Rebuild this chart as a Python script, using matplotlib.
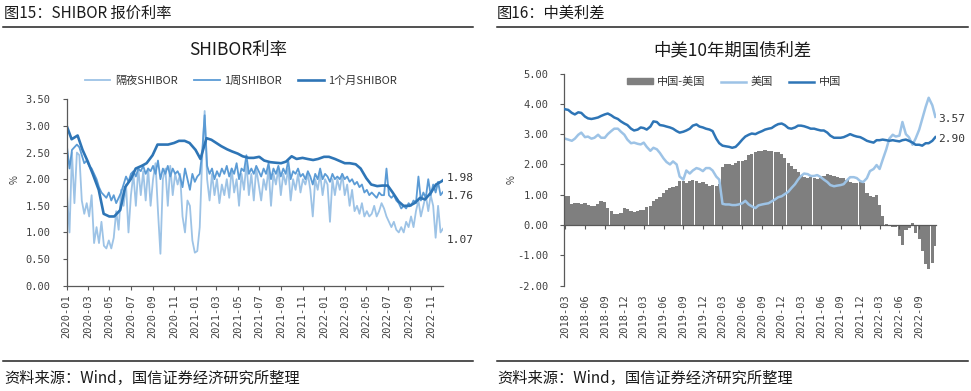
import numpy as np
import pandas as pd
import matplotlib
matplotlib.use('Agg')
import matplotlib.pyplot as plt
from matplotlib.lines import Line2D
from matplotlib.patches import Patch

plt.rcParams['font.family'] = ['Noto Sans CJK SC', 'DejaVu Sans']

# ---------------- Data: SHIBOR (left) ----------------
shibor_on = [
    1.70, 1.00, 2.50, 1.55, 2.50, 2.45, 1.60, 1.35, 1.55, 1.30,
    1.70, 0.80, 1.10, 0.80, 1.20, 0.75, 0.70, 0.85, 0.70, 0.90,
    1.40, 1.05, 1.80, 1.50, 1.90, 1.00, 1.70, 2.10, 1.50, 2.20,
    1.70, 2.15, 1.60, 2.20, 1.50, 2.00, 2.30, 1.40, 0.60, 2.00,
    2.20, 1.50, 2.25, 1.70, 2.10, 1.90, 2.10, 1.30, 1.00, 1.60,
    1.50, 0.85, 0.62, 0.65, 1.10, 2.40, 3.28, 2.00, 1.60, 2.10,
    1.70, 2.00, 1.55, 1.90, 1.70, 2.00, 1.65, 2.20, 1.75, 2.00,
    1.50, 2.10, 1.80, 2.30, 1.70, 2.10, 1.60, 2.20, 1.90, 1.60,
    2.00, 1.80, 2.20, 1.50, 2.10, 1.90, 2.20, 1.70, 2.10, 1.90,
    2.20, 1.60, 2.00, 1.80, 2.10, 1.75, 2.00, 1.90, 2.10, 1.80,
    1.30, 2.00, 1.80, 2.10, 1.70, 2.00, 1.90, 1.20, 2.00, 1.70,
    2.00, 1.80, 2.10, 1.70, 1.90, 1.50, 1.80, 1.40, 1.50, 1.35,
    1.55, 1.30, 1.40, 1.30, 1.35, 1.50, 1.30, 1.40, 1.55, 1.45,
    1.30, 1.20, 1.10, 1.20, 1.05, 1.00, 1.10, 1.00, 1.20, 1.10,
    1.30, 1.10, 1.40, 1.60, 1.30, 1.50, 1.70, 1.40, 1.70, 1.50,
    0.90, 1.50, 1.00, 1.07,
]
shibor_1w = [
    2.60, 2.20, 2.55, 2.60, 2.65, 2.60, 2.45, 2.30, 2.35, 2.25,
    2.20, 2.10, 2.00, 1.85, 1.75, 1.70, 1.65, 1.75, 1.60, 1.70,
    1.55, 1.65, 1.75, 1.90, 2.05, 1.95, 2.10, 2.15, 2.05, 2.20,
    2.15, 2.25, 2.10, 2.20, 2.15, 2.25, 2.10, 2.35, 2.00, 2.20,
    2.10, 2.25, 2.05, 2.20, 2.10, 2.15, 2.05, 1.85, 2.20, 2.00,
    1.80, 2.10, 1.95, 2.05, 2.10, 2.50, 3.20, 2.25, 2.10, 2.20,
    2.00, 2.15, 2.05, 2.20, 2.10, 2.25, 2.05, 2.20, 2.10, 2.30,
    2.00, 2.20, 2.15, 2.45, 2.10, 2.20, 2.10, 2.25, 2.15, 2.05,
    2.20, 2.10, 2.30, 2.00, 2.20, 2.10, 2.25, 2.05, 2.20, 2.10,
    2.35, 2.00, 2.15, 2.10, 2.20, 2.05, 2.10, 2.00, 2.15, 2.05,
    1.90, 2.10, 2.00, 2.20, 2.00, 2.10, 2.05, 1.95, 2.10, 2.00,
    2.05, 2.00, 2.10, 2.00, 2.05, 1.95, 2.00, 1.90, 1.95, 1.85,
    1.90, 1.75, 1.80, 1.70, 1.75, 1.70, 1.65, 1.75, 1.70, 1.70,
    2.20, 1.70, 1.65, 1.70, 1.60, 1.55, 1.45, 1.50, 1.45, 1.55,
    1.50, 1.60, 1.55, 2.05, 1.60, 1.75, 1.65, 2.00, 1.70, 1.90,
    1.75, 1.95, 1.70, 1.76,
]
shibor_1m = [
    3.00, 2.75, 2.82, 2.55, 2.33, 2.10, 1.80, 1.35, 1.30, 1.30, 1.42, 1.85,
    2.00, 2.20, 2.25, 2.30, 2.45, 2.65, 2.65, 2.65, 2.68, 2.72, 2.72, 2.68,
    2.55, 2.38, 2.77, 2.74, 2.68, 2.62, 2.56, 2.52, 2.48, 2.43, 2.40, 2.40,
    2.42, 2.35, 2.32, 2.31, 2.30, 2.33, 2.43, 2.38, 2.40, 2.38, 2.36, 2.38,
    2.42, 2.42, 2.38, 2.34, 2.30, 2.30, 2.28, 2.20, 2.02, 1.90, 1.87, 1.88,
    1.88, 1.75, 1.58, 1.50, 1.50, 1.55, 1.65, 1.62, 1.75, 1.90, 1.96, 1.98,
]
left_series = ['隔夜SHIBOR', '1周SHIBOR', '1个月SHIBOR']
left_end_labels = ['1.98', '1.76', '1.07']

# ---------------- Data: China-US 10Y (right) ----------------
cn10y = [
    3.82, 3.80, 3.70, 3.65, 3.72, 3.70, 3.58, 3.52, 3.50, 3.52,
    3.55, 3.60, 3.65, 3.68, 3.62, 3.55, 3.50, 3.42, 3.35, 3.30,
    3.18, 3.12, 3.15, 3.22, 3.20, 3.15, 3.25, 3.42, 3.40, 3.30, 3.28, 3.25,
    3.22, 3.18, 3.10, 3.05, 3.08, 3.12, 3.18, 3.28, 3.32, 3.25, 3.22, 3.18,
    3.15, 3.10, 2.85, 2.70, 2.62, 2.60, 2.58, 2.55, 2.58, 2.68, 2.82, 2.92,
    2.98, 3.02, 3.00, 3.05, 3.10, 3.15, 3.18, 3.20, 3.28, 3.33, 3.35, 3.30,
    3.20, 3.18, 3.22, 3.28, 3.28, 3.26, 3.22, 3.18, 3.18, 3.15, 3.12, 3.12,
    3.05, 2.95, 2.88, 2.88, 2.88, 2.90, 2.95, 3.00, 2.95, 2.92, 2.90, 2.85,
    2.78, 2.75, 2.72, 2.80, 2.80, 2.82, 2.80, 2.78, 2.80, 2.78, 2.76,
    2.80, 2.82, 2.78, 2.72, 2.65, 2.65, 2.62, 2.70, 2.70, 2.78, 2.90,
]
us10y = [
    2.85, 2.82, 2.78, 2.85, 2.98, 3.05, 2.90, 2.92, 2.85, 2.88,
    2.98, 2.88, 2.88, 3.00, 3.10, 3.18, 3.18, 3.08, 2.98, 2.82,
    2.70, 2.72, 2.68, 2.66, 2.72, 2.58, 2.45, 2.55, 2.50, 2.38, 2.20, 2.08,
    2.00, 2.10, 2.00, 1.60, 1.50, 1.80, 1.70, 1.80, 1.88, 1.85, 1.78, 1.88,
    1.88, 1.80, 1.60, 1.50, 0.70, 0.68, 0.68, 0.66, 0.66, 0.68, 0.72, 0.80,
    0.68, 0.62, 0.56, 0.65, 0.68, 0.70, 0.72, 0.78, 0.85, 0.92, 0.95, 1.02,
    1.10, 1.22, 1.35, 1.50, 1.62, 1.70, 1.68, 1.62, 1.62, 1.65, 1.58, 1.50,
    1.42, 1.32, 1.28, 1.30, 1.32, 1.35, 1.48, 1.58, 1.58, 1.55, 1.45, 1.42,
    1.55, 1.78, 1.85, 1.98, 1.85, 2.15, 2.50, 2.85, 2.98, 2.92, 2.95,
    3.40, 3.00, 2.90, 2.65, 2.85, 3.15, 3.50, 3.90, 4.20, 3.95, 3.57,
]
cn_us_spread = [
    0.97, 0.95, 0.70, 0.72, 0.72, 0.70, 0.72, 0.65, 0.62, 0.62,
    0.70, 0.78, 0.75, 0.55, 0.45, 0.38, 0.35, 0.40, 0.55, 0.52,
    0.45, 0.42, 0.48, 0.50, 0.50, 0.58, 0.62, 0.80, 0.85, 0.92, 1.05, 1.15,
    1.22, 1.25, 1.30, 1.45, 1.45, 1.40, 1.45, 1.48, 1.45, 1.40, 1.42, 1.35,
    1.30, 1.32, 1.30, 1.35, 1.90, 2.00, 2.00, 1.98, 2.05, 2.10, 2.12, 2.15,
    2.30, 2.35, 2.42, 2.45, 2.45, 2.48, 2.45, 2.45, 2.42, 2.40, 2.35, 2.20,
    2.05, 1.95, 1.85, 1.75, 1.65, 1.60, 1.55, 1.58, 1.55, 1.52, 1.55, 1.62,
    1.68, 1.65, 1.62, 1.58, 1.55, 1.55, 1.48, 1.42, 1.38, 1.38, 1.42, 1.40,
    1.05, 0.95, 0.92, 1.00, 0.65, 0.30, 0.05, -0.02, -0.08, -0.05, -0.35,
    -0.65, -0.15, -0.10, 0.08, -0.25, -0.45, -0.85, -1.30, -1.45, -1.25, -0.70,
]
right_series = ['中国-美国', '美国', '中国']
right_end_labels = ['3.57', '2.90']

# ---------------- Dates ----------------
wk_dates = pd.date_range('2020-01-02', '2022-12-05', periods=len(shibor_on))
m1_dates = list(pd.date_range('2020-01-01', '2022-12-01', freq='SMS')) + [pd.Timestamp('2022-12-05')]
r_dates = pd.date_range('2018-03-01', '2022-11-15', freq='SMS')

W, H = 971, 391
fig = plt.figure(figsize=(W / 100, H / 100), dpi=100)
fig.patch.set_facecolor('white')


def fx(px):
    return px / W


def fy(py):
    return 1 - py / H


TXT = '#1a1a1a'
TICKC = '#404040'
MONO = 'DejaVu Sans Mono'

# Headers / footers
fig.text(fx(4), fy(13), '图15：SHIBOR 报价利率', fontsize=11, ha='left', va='center', color=TXT)
fig.text(fx(497), fy(13), '图16：中美利差', fontsize=11, ha='left', va='center', color=TXT)
for x0, x1 in [(3, 473), (497, 968)]:
    fig.add_artist(Line2D([fx(x0), fx(x1)], [fy(26.7)] * 2, color='#222222', lw=1.1))
    fig.add_artist(Line2D([fx(x0), fx(x1)], [fy(361)] * 2, color='#222222', lw=1.1))
fig.text(fx(4), fy(378), '资料来源：Wind，国信证券经济研究所整理', fontsize=11, ha='left', va='center', color=TXT)
fig.text(fx(497), fy(378), '资料来源：Wind，国信证券经济研究所整理', fontsize=11, ha='left', va='center', color=TXT)

# Chart titles
fig.text(fx(238), fy(50), 'SHIBOR利率', fontsize=12.5, ha='center', va='center', color=TXT)
fig.text(fx(732), fy(50), '中美10年期国债利差', fontsize=12.5, ha='center', va='center', color=TXT)

# y-axis unit labels
fig.text(fx(15), fy(180), '%', fontsize=7, rotation=90, ha='center', va='center', color=TICKC)
fig.text(fx(512), fy(180), '%', fontsize=7, rotation=90, ha='center', va='center', color=TICKC)

# ---------------- Left chart ----------------
ax1 = fig.add_axes([fx(66.7), fy(285.7), fx(443) - fx(66.7), (285.7 - 99.3) / H])
c_on, c_1w, c_1m = '#9DC3E6', '#5B9BD5', '#2E75B6'
ax1.plot(wk_dates, shibor_on, color=c_on, lw=1.3, label=left_series[0])
ax1.plot(wk_dates, shibor_1w, color=c_1w, lw=1.3, label=left_series[1])
ax1.plot(m1_dates, shibor_1m, color=c_1m, lw=1.9, label=left_series[2])
ax1.set_ylim(0, 3.5)
yt = np.arange(0, 3.51, 0.5)
ax1.set_yticks(yt)
ax1.set_yticklabels([f'{v:.2f}' for v in yt])
ax1.set_xlim(pd.Timestamp('2020-01-01'), pd.Timestamp('2022-12-05'))
xt1 = pd.date_range('2020-01-01', '2022-11-01', freq='2MS')
ax1.set_xticks(xt1)
ax1.set_xticklabels([t.strftime('%Y-%m') for t in xt1], rotation=90, va='top', ha='center')

ax1.text(1.01, 2.02, left_end_labels[0], transform=ax1.get_yaxis_transform(), fontsize=8,
         family=MONO, color='#333333', va='center', ha='left')
ax1.text(1.01, 1.69, left_end_labels[1], transform=ax1.get_yaxis_transform(), fontsize=8,
         family=MONO, color='#333333', va='center', ha='left')
ax1.text(1.01, 0.85, left_end_labels[2], transform=ax1.get_yaxis_transform(), fontsize=8,
         family=MONO, color='#333333', va='center', ha='left')

leg1 = fig.legend(handles=ax1.get_lines(), labels=left_series, loc='center',
                  bbox_to_anchor=(fx(241), fy(81)), ncol=3, frameon=False, fontsize=8,
                  handlelength=2.3, handletextpad=0.4, columnspacing=1.5)
for t in leg1.get_texts():
    t.set_color('#333333')

# ---------------- Right chart ----------------
ax2 = fig.add_axes([fx(564.3), fy(285.7), fx(936) - fx(564.3), (285.7 - 73.5) / H])
ax2.spines['bottom'].set_position(('data', 0))
bars = ax2.bar(r_dates, cn_us_spread, width=15.5, color='#7F7F7F', linewidth=0, zorder=1,
               label=right_series[0])
l_us, = ax2.plot(r_dates, us10y, color='#9DC3E6', lw=1.8, zorder=2, label=right_series[1])
l_cn, = ax2.plot(r_dates, cn10y, color='#2E75B6', lw=1.8, zorder=3, label=right_series[2])
ax2.set_ylim(-2, 5)
yt2 = np.arange(-2, 5.01, 1.0)
ax2.set_yticks(yt2)
ax2.set_yticklabels([f'{v:.2f}' for v in yt2])
ax2.set_xlim(pd.Timestamp('2018-02-25'), pd.Timestamp('2022-11-18'))
xt2 = pd.date_range('2018-03-01', '2022-09-01', freq='3MS')
ax2.set_xticks(xt2)
ax2.set_xticklabels([t.strftime('%Y-%m') for t in xt2], rotation=90, va='top', ha='center')

ax2.text(1.005, 3.49, right_end_labels[0], transform=ax2.get_yaxis_transform(), fontsize=8,
         family=MONO, color='#333333', va='center', ha='left')
ax2.text(1.005, 2.84, right_end_labels[1], transform=ax2.get_yaxis_transform(), fontsize=8,
         family=MONO, color='#333333', va='center', ha='left')

leg2 = fig.legend(handles=[Patch(color='#7F7F7F'), l_us, l_cn], labels=right_series, loc='center',
                  bbox_to_anchor=(fx(734), fy(82)), ncol=3, frameon=False, fontsize=8,
                  handlelength=2.3, handleheight=0.5, handletextpad=0.4, columnspacing=1.4)
for t in leg2.get_texts():
    t.set_color('#333333')

# ---------------- Common axis styling ----------------
for ax, xpad in [(ax1, (293 - 285.7 - 3) * 0.72), (ax2, (293 - 225 - 3) * 0.72)]:
    ax.set_facecolor('white')
    ax.spines['top'].set_visible(False)
    ax.spines['right'].set_visible(False)
    ax.spines['left'].set_color('#595959')
    ax.spines['bottom'].set_color('#595959')
    ax.spines['left'].set_linewidth(0.9)
    ax.spines['bottom'].set_linewidth(0.9)
    ax.tick_params(axis='y', direction='out', length=3, width=0.8, color='#595959',
                   pad=8.5, labelsize=7.5, labelcolor=TICKC)
    ax.tick_params(axis='x', direction='out', length=3, width=0.8, color='#595959',
                   pad=xpad, labelsize=7.5, labelcolor=TICKC, labelrotation=90)
    for lab in ax.get_xticklabels() + ax.get_yticklabels():
        lab.set_family(MONO)
    for lab in ax.get_xticklabels():
        lab.set_rotation(90)
        lab.set_va('top')
        lab.set_ha('center')

fig.savefig('out.png', dpi=100, facecolor='white')
